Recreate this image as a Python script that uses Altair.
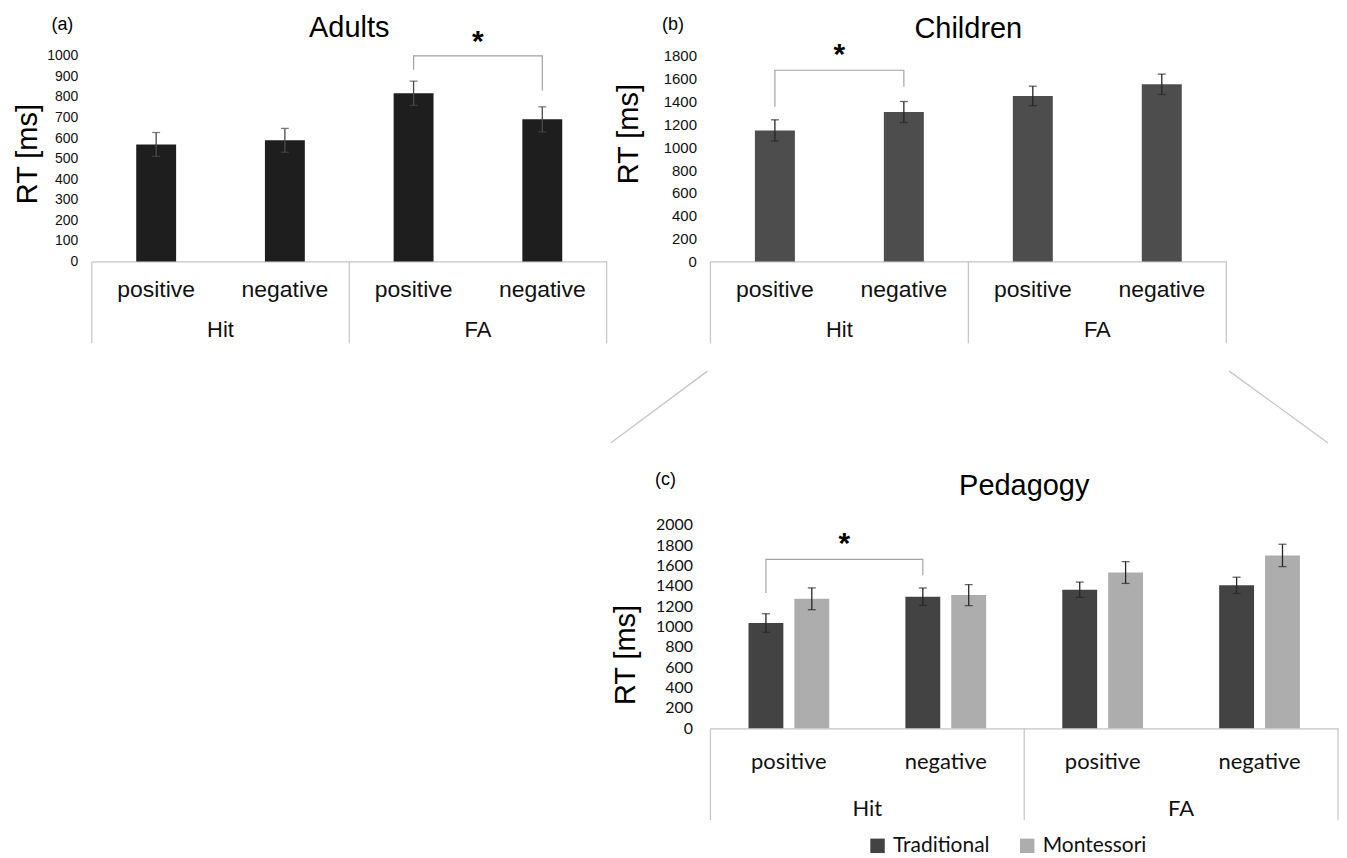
import altair as alt
import pandas as pd

# ---------------- data ----------------
conditions = ["Hit", "Hit", "FA", "FA"]
valences = ["positive", "negative", "positive", "negative"]

adult_rt = [569, 589, 818, 691]
adult_se = [58, 58, 59, 61]

child_rt = [1147, 1308, 1449, 1551]
child_se = [93, 92, 85, 89]

pedagogies = ["Traditional", "Montessori"]
traditional_rt = [1035, 1293, 1362, 1405]
traditional_se = [91, 86, 75, 80]
montessori_rt = [1273, 1309, 1531, 1699]
montessori_se = [107, 104, 107, 110]

adult_ticks = [0, 100, 200, 300, 400, 500, 600, 700, 800, 900, 1000]
child_ticks = [0, 200, 400, 600, 800, 1000, 1200, 1400, 1600, 1800]
pedagogy_ticks = [0, 200, 400, 600, 800, 1000, 1200, 1400, 1600, 1800, 2000]

# significance brackets (category index, RT level of each bracket vertex)
adult_bracket_cat = [2, 2, 3, 3]
adult_bracket_rt = [932, 1000, 1000, 830]
adult_star = (3, 1022)
child_bracket_cat = [0, 0, 1, 1]
child_bracket_rt = [1354, 1674, 1674, 1529]
child_star = (1, 1725)
pedagogy_bracket_cat = [0, 0, 1, 1]
pedagogy_bracket_rt = [1329, 1660, 1660, 1504]
pedagogy_star = (1, 1718)

# ---------------- styling ----------------
keys = [f"{c} {v}" for c, v in zip(conditions, valences)]
ARIAL = "Liberation Sans"
CAL = "Lato"
BOX = "#c4c4c4"
BRACKET = "#a3a3a3"
TXT = "#111111"
XSCALE = alt.Scale(domain=keys, paddingInner=0, paddingOuter=0)


def x_enc(axis, band_position=None):
    kw = {}
    if band_position is not None:
        kw["bandPosition"] = band_position
    return alt.X("key:N", sort=keys, scale=XSCALE, axis=axis, **kw)


def x_axis(font, size, pad):
    return alt.Axis(orient="bottom", title=None, domain=True, domainColor=BOX,
                    domainWidth=1.2, ticks=False, tickSize=0, grid=False,
                    labelExpr="split(datum.label, ' ')[1]", labelFont=font,
                    labelFontSize=size, labelColor=TXT, labelPadding=pad,
                    labelBaseline="middle", labelAngle=0, labelOverlap=False,
                    labelLimit=400)


def y_axis(ticks, font, size, pad, tx, ty):
    return alt.Axis(values=ticks, format="d", title="RT [ms]", domain=False,
                    ticks=False, grid=False, labelFont=font, labelFontSize=size,
                    labelColor=TXT, labelPadding=pad, titleFont=ARIAL,
                    titleFontSize=29, titleFontWeight="normal", titleColor="#000",
                    titleAngle=270, titleAlign="center", titleBaseline="middle",
                    titleX=tx, titleY=ty)


def box_layers(xa, H, depth):
    starts = [keys[i] for i in range(len(keys)) if i == 0 or conditions[i] != conditions[i - 1]]
    left = alt.Chart(pd.DataFrame({"key": starts})).mark_rule(
        color=BOX, strokeWidth=1.2).encode(
        x=x_enc(xa, 0), y=alt.value(H), y2=alt.value(H + depth))
    right = alt.Chart(pd.DataFrame({"key": [keys[-1]]})).mark_rule(
        color=BOX, strokeWidth=1.2).encode(
        x=x_enc(xa, 1), y=alt.value(H), y2=alt.value(H + depth))
    return [left, right]


def group_label_layer(xa, H, offset, font, size):
    names = list(dict.fromkeys(conditions))
    mids = []
    for g in names:
        idx = [i for i, c in enumerate(conditions) if c == g]
        mids.append(keys[idx[len(idx) // 2]])
    df = pd.DataFrame({"key": mids, "cond": names})
    return alt.Chart(df).mark_text(font=font, fontSize=size, baseline="middle",
                                   color=TXT).encode(
        x=x_enc(xa, 0), y=alt.value(H + offset), text="cond:N")


def text_layer(text, x, y, font, size, weight="normal", align="center"):
    return alt.Chart(pd.DataFrame({"t": [text]})).mark_text(
        font=font, fontSize=size, fontWeight=weight, baseline="alphabetic",
        align=align, color="#000").encode(
        x=alt.value(x), y=alt.value(y), text="t:N")


def simple_panel(rt, se, ticks, ymax, bar_color, err_color, W, H, tick_size,
                 tx, ty, bracket_cat, bracket_rt, star, tag, tag_x, title, title_y):
    ysc = alt.Scale(domain=[0, ymax], nice=False, zero=True)
    xa = x_axis(ARIAL, 23, 28.5)
    ya = y_axis(ticks, ARIAL, tick_size, 14, tx, ty)
    df = pd.DataFrame({"key": keys, "rt": rt,
                       "lo": [r - s for r, s in zip(rt, se)],
                       "hi": [r + s for r, s in zip(rt, se)]})
    bars = alt.Chart(df).mark_bar(color=bar_color, width=alt.RelativeBandSize(0.31)).encode(
        x=x_enc(xa), y=alt.Y("rt:Q", scale=ysc, axis=ya))
    err = alt.Chart(df).mark_rule(color=err_color, strokeWidth=1.3).encode(
        x=x_enc(xa), y=alt.Y("lo:Q", scale=ysc, axis=ya), y2="hi:Q")
    cap_lo = alt.Chart(df).mark_tick(color=err_color, size=8, thickness=1.3).encode(
        x=x_enc(xa), y=alt.Y("lo:Q", scale=ysc, axis=ya))
    cap_hi = alt.Chart(df).mark_tick(color=err_color, size=8, thickness=1.3).encode(
        x=x_enc(xa), y=alt.Y("hi:Q", scale=ysc, axis=ya))
    bdf = pd.DataFrame({"key": [keys[i] for i in bracket_cat], "v": bracket_rt,
                        "seq": list(range(len(bracket_cat)))})
    bracket = alt.Chart(bdf).mark_line(color=BRACKET, strokeWidth=1.2).encode(
        x=x_enc(xa), y=alt.Y("v:Q", scale=ysc, axis=ya), order="seq:Q")
    sdf = pd.DataFrame({"key": [keys[star[0]]], "v": [star[1]]})
    star_l = alt.Chart(sdf).mark_text(text="*", font=ARIAL, fontSize=30, fontWeight="bold",
                                      baseline="alphabetic", color="#000").encode(
        x=x_enc(xa, 0), y=alt.Y("v:Q", scale=ysc, axis=ya))
    layers = [bars, err, cap_lo, cap_hi, bracket, star_l]
    layers += box_layers(xa, H, 82)
    layers.append(group_label_layer(xa, H, 68.7, ARIAL, 22))
    layers.append(text_layer(tag, tag_x, -26, ARIAL, 18))
    layers.append(text_layer(title, W / 2, title_y, ARIAL, 29))
    return alt.layer(*layers).properties(width=W, height=H)


A = simple_panel(adult_rt, adult_se, adult_ticks, 1000, "#1e1e1e", "#4a4a4a", 516, 206, 14,
                 -64, 98, adult_bracket_cat, adult_bracket_rt, adult_star, "(a)", -29.5,
                 "Adults", -19)
B = simple_panel(child_rt, child_se, child_ticks, 1800, "#4d4d4d", "#262626", 517, 206, 15,
                 -82, 78, child_bracket_cat, child_bracket_rt, child_star, "(b)", -37.5,
                 "Children", -18)

# spacer cell (keeps panel c in the right-hand column)
S = alt.Chart(pd.DataFrame({"v": [0]})).mark_point(opacity=0).encode(
    x=alt.X("v:Q", axis=None), y=alt.Y("v:Q", axis=None)).properties(width=516, height=204)

# ---------------- panel (c) ----------------
WC, HC = 629, 204
ysc_c = alt.Scale(domain=[0, 2000], nice=False, zero=True)
xa_c = x_axis(CAL, 22, 33.7)
ya_c = y_axis(pedagogy_ticks, CAL, 16, 18, -85, 130)
xoff = alt.XOffset("grp:N", sort=pedagogies,
                   scale=alt.Scale(domain=pedagogies, paddingInner=0.24, paddingOuter=0.83))
ped_rt = traditional_rt + montessori_rt
ped_se = traditional_se + montessori_se
ped_df = pd.DataFrame({
    "key": keys * 2,
    "grp": [pedagogies[0]] * len(keys) + [pedagogies[1]] * len(keys),
    "rt": ped_rt,
    "lo": [r - s for r, s in zip(ped_rt, ped_se)],
    "hi": [r + s for r, s in zip(ped_rt, ped_se)],
})
c_bars = alt.Chart(ped_df).mark_bar().encode(
    x=x_enc(xa_c),
    xOffset=xoff,
    y=alt.Y("rt:Q", scale=ysc_c, axis=ya_c),
    color=alt.Color("grp:N", sort=pedagogies,
                    scale=alt.Scale(domain=pedagogies, range=["#434343", "#adadad"]),
                    legend=alt.Legend(orient="none", legendX=777, legendY=781,
                                      direction="horizontal", title=None,
                                      symbolType="square", symbolSize=210,
                                      symbolStrokeWidth=0, symbolOpacity=1,
                                      labelFont=CAL, labelFontSize=21, labelColor=TXT,
                                      labelOffset=5, columnPadding=27, padding=0)))
c_err = alt.Chart(ped_df).mark_rule(color="#262626", strokeWidth=1.3).encode(
    x=x_enc(xa_c), xOffset=xoff, y=alt.Y("lo:Q", scale=ysc_c, axis=ya_c), y2="hi:Q")
c_cap_lo = alt.Chart(ped_df).mark_tick(color="#262626", size=8, thickness=1.3).encode(
    x=x_enc(xa_c), xOffset=xoff, y=alt.Y("lo:Q", scale=ysc_c, axis=ya_c))
c_cap_hi = alt.Chart(ped_df).mark_tick(color="#262626", size=8, thickness=1.3).encode(
    x=x_enc(xa_c), xOffset=xoff, y=alt.Y("hi:Q", scale=ysc_c, axis=ya_c))
c_bdf = pd.DataFrame({"key": [keys[i] for i in pedagogy_bracket_cat],
                      "grp": [pedagogies[0]] * len(pedagogy_bracket_cat),
                      "v": pedagogy_bracket_rt,
                      "seq": list(range(len(pedagogy_bracket_cat)))})
c_bracket = alt.Chart(c_bdf).mark_line(color=BRACKET, strokeWidth=1.2).encode(
    x=x_enc(xa_c), xOffset=xoff, y=alt.Y("v:Q", scale=ysc_c, axis=ya_c), order="seq:Q")
c_sdf = pd.DataFrame({"key": [keys[pedagogy_star[0]]], "v": [pedagogy_star[1]]})
c_star = alt.Chart(c_sdf).mark_text(text="*", font=ARIAL, fontSize=30, fontWeight="bold",
                                    baseline="alphabetic", color="#000", dx=-23).encode(
    x=x_enc(xa_c, 0), y=alt.Y("v:Q", scale=ysc_c, axis=ya_c))
one = pd.DataFrame({"i": [0]})
conn_left = alt.Chart(one).mark_rule(color="#c6c6c6", strokeWidth=1.3).encode(
    x=alt.value(-3), y=alt.value(-154), x2=alt.value(-100), y2=alt.value(-82))
conn_right = alt.Chart(one).mark_rule(color="#c6c6c6", strokeWidth=1.3).encode(
    x=alt.value(520), y=alt.value(-154), x2=alt.value(619), y2=alt.value(-82))

c_layers = [c_bars, c_err, c_cap_lo, c_cap_hi, c_bracket, c_star]
c_layers += box_layers(xa_c, HC, 92)
c_layers.append(group_label_layer(xa_c, HC, 81, CAL, 22))
c_layers += [conn_left, conn_right]
c_layers.append(text_layer("(c)", -45, -40, ARIAL, 18))
c_layers.append(text_layer("Pedagogy", WC / 2, -30, ARIAL, 29))
C = alt.layer(*c_layers).properties(width=WC, height=HC)

chart = alt.concat(A, B, S, C, columns=2, spacing={"row": 264, "column": 104},
                   bounds="flush").properties(
    padding={"left": 6, "top": 5, "right": 0, "bottom": 0}, background="white"
).configure_view(stroke=None)

chart.save("out.html", embed_options={"renderer": "svg", "actions": False})
